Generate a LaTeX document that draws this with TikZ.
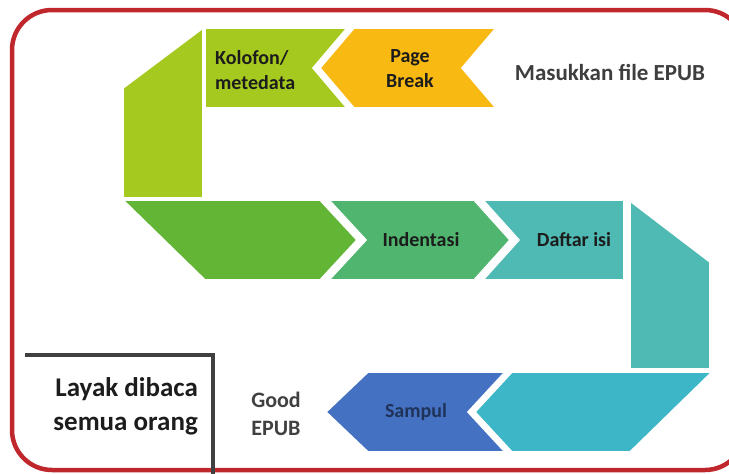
\documentclass[tikz,border=0pt]{standalone}
\usepackage{fontspec}
\setmainfont{Carlito}
\definecolor{Frame}{HTML}{C0272D}
\definecolor{Lime}{HTML}{A6C920}
\definecolor{Sun}{HTML}{F7B912}
\definecolor{Leaf}{HTML}{63B536}
\definecolor{Mint}{HTML}{50B56E}
\definecolor{Teal}{HTML}{4EBAB3}
\definecolor{Sky}{HTML}{3DB6C7}
\definecolor{Cobalt}{HTML}{4571C3}
\definecolor{Ink}{HTML}{1C1C1C}
\definecolor{Graphite}{HTML}{404040}
\tikzset{
  piece/.style={draw=white,line width=1.6pt,line join=miter},
  tag/.style={font=\bfseries\fontsize{20}{25}\selectfont,text=Ink,align=center,inner sep=0pt},
  note/.style={font=\bfseries\fontsize{22}{28}\selectfont,text=Graphite,align=center,inner sep=0pt},
  bignote/.style={font=\bfseries\fontsize{27}{34}\selectfont,text=Ink,align=right,inner sep=0pt}
}

\begin{document}
\begin{tikzpicture}[x=1pt,y=-1pt]
        \useasboundingbox (0,0) rectangle (729,474);
        \clip (0,0) rectangle (729,474);
        \draw[Frame,line width=4.5pt,rounded corners=40pt] (12,10) rectangle (745,470);

        % top row, runs right to left
        \fill[Lime,piece] (123,88) -- (203,28) -- (203,198) -- (123,198) -- cycle;
        \fill[Lime,piece] (205,28) -- (347,28) -- (313,68) -- (347,108) -- (205,108) -- cycle;
        \fill[Sun,piece] (354,28) -- (496,28) -- (462,68) -- (496,108) -- (354,108) -- (320,68) -- cycle;
        \node[tag,align=left,anchor=west] (kolofon) at (215,70) {Kolofon/\\metedata};
        \node[tag] (pagebreak) at (410,69) {Page\\Break};
        \node[note,text=Ink!85,font=\bfseries\fontsize{23}{28}\selectfont] (masukkan) at (610,72) {Masukkan file EPUB};

        % middle row, runs left to right
        \fill[Leaf,piece] (123,200) -- (320,200) -- (357,240) -- (320,280) -- (205,280) -- cycle;
        \fill[Mint,piece] (329,200) -- (474,200) -- (510,240) -- (474,280) -- (329,280) -- (366,240) -- cycle;
        \fill[Teal,piece] (483,200) -- (624,200) -- (624,280) -- (483,280) -- (519,240) -- cycle;
        \fill[Teal,piece] (630,201) -- (710,262) -- (710,369) -- (630,369) -- cycle;
        \node[tag] (indentasi) at (421,240) {Indentasi};
        \node[tag] (daftar) at (574,240) {Daftar isi};

        % bottom row, back to the left
        \fill[Sky,piece] (512,372) -- (712,372) -- (630,452) -- (512,452) -- (475,412) -- cycle;
        \fill[Cobalt,piece] (368,372) -- (505,372) -- (468,412) -- (505,452) -- (368,452) -- (326,412) -- cycle;
        \node[tag,text=Cobalt!45!black] (sampul) at (416,412) {Sampul};
        \node[note] (good) at (276,414) {Good\\EPUB};

        % end result
        \draw[Graphite,line width=3.2pt] (25,355) -- (213,355) -- (213,474);
        \node[bignote,anchor=east] (layak) at (198,406) {Layak dibaca\\semua orang};
      \end{tikzpicture}
\end{document}
